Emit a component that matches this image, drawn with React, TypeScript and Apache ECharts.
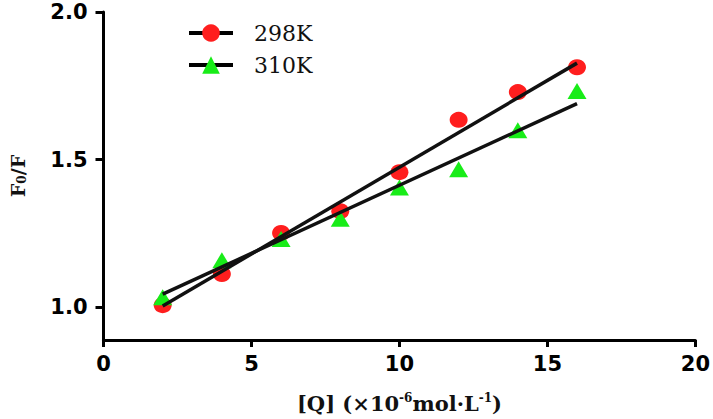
import React, { useEffect, useRef } from "react";
import * as echarts from "echarts";

const concentrations = [2, 4, 6, 8, 10, 12, 14, 16];
const ratio298 = [1.008, 1.113, 1.252, 1.326, 1.458, 1.635, 1.729, 1.813];
const ratio310 = [1.035, 1.16, 1.232, 1.3, 1.406, 1.468, 1.6, 1.733];
const fit298 = [[2, 1.005], [16, 1.827]];
const fit310 = [[2, 1.045], [16, 1.69]];
const yTicks = [1.0, 1.5, 2.0];
const seriesNames = ["298K", "310K"];

export default function App() {
  const ref = useRef<HTMLDivElement>(null);
  useEffect(() => {
    if (!ref.current) return;
    const chart = echarts.init(ref.current, null, { renderer: "svg" });
    const axisLine = { show: true, lineStyle: { color: "#000", width: 3 } };
    const labelFont = {
      color: "#000",
      fontFamily: "DejaVu Sans",
      fontWeight: "bold" as const,
      fontSize: 21,
    };
    chart.setOption({
      animation: false,
      backgroundColor: "#fff",
      grid: { left: 100, right: 16, top: 12, bottom: 79, containLabel: false },
      legend: {
        orient: "vertical",
        left: 187,
        top: 22,
        padding: 0,
        itemWidth: 44,
        itemHeight: 22,
        itemGap: 10,
        data: seriesNames,
        lineStyle: { color: "#000", width: 4, opacity: 1, type: "solid" },
        textStyle: {
          fontFamily: "DejaVu Serif",
          fontSize: 22,
          color: "#111",
          padding: [0, 0, 0, 16],
        },
      },
      xAxis: {
        type: "value",
        min: 0,
        max: 20,
        interval: 5,
        name: "{b|[Q] (×10}{s|-6}{b|mol·L}{s|-1}{b|)}",
        nameLocation: "middle",
        nameGap: 52,
        nameTextStyle: {
          rich: {
            b: { fontFamily: "DejaVu Serif", fontWeight: "bold", fontSize: 21, color: "#111" },
            s: {
              fontFamily: "DejaVu Serif",
              fontWeight: "bold",
              fontSize: 12,
              color: "#111",
              verticalAlign: "top",
              padding: [0, 0, 10, 0],
            },
          },
        },
        axisLine,
        axisTick: { show: true, inside: false, length: 7, lineStyle: { color: "#000", width: 3 } },
        axisLabel: { ...labelFont, margin: 13 },
        splitLine: { show: false },
      },
      yAxis: {
        type: "value",
        min: 0.89,
        max: 2.0,
        name: "{b|F}{s|0}{b|/F}",
        nameLocation: "middle",
        nameGap: 76,
        nameRotate: 90,
        nameTextStyle: {
          rich: {
            b: { fontFamily: "DejaVu Serif", fontWeight: "bold", fontSize: 19, color: "#111" },
            s: {
              fontFamily: "DejaVu Serif",
              fontWeight: "bold",
              fontSize: 12,
              color: "#111",
              padding: [8, 0, 0, 0],
            },
          },
        },
        axisLine,
        axisTick: {
          show: true,
          length: 8,
          customValues: yTicks,
          lineStyle: { color: "#000", width: 3 },
        },
        axisLabel: {
          ...labelFont,
          margin: 16,
          customValues: yTicks,
          formatter: (v: number) => v.toFixed(1),
        },
        splitLine: { show: false },
      },
      series: [
        {
          name: "fit298",
          type: "line",
          data: fit298,
          symbol: "none",
          lineStyle: { color: "#111", width: 3.5 },
          z: 3,
        },
        {
          name: "fit310",
          type: "line",
          data: fit310,
          symbol: "none",
          lineStyle: { color: "#111", width: 3.5 },
          z: 3,
        },
        {
          name: seriesNames[0],
          type: "line",
          data: concentrations.map((x, i) => [x, ratio298[i]]),
          symbol: "circle",
          symbolSize: [18, 16],
          itemStyle: { color: "#ff1e1e" },
          lineStyle: { opacity: 0, width: 0 },
          z: 2,
        },
        {
          name: seriesNames[1],
          type: "line",
          data: concentrations.map((x, i) => [x, ratio310[i]]),
          symbol: "triangle",
          symbolSize: [19, 16],
          itemStyle: { color: "#18ec18" },
          lineStyle: { opacity: 0, width: 0 },
          z: 2,
        },
      ],
    });
    return () => chart.dispose();
  }, []);
  return (
    <div
      ref={ref}
      style={{ position: "absolute", left: 0, top: 0, width: 713, height: 419 }}
    />
  );
}
